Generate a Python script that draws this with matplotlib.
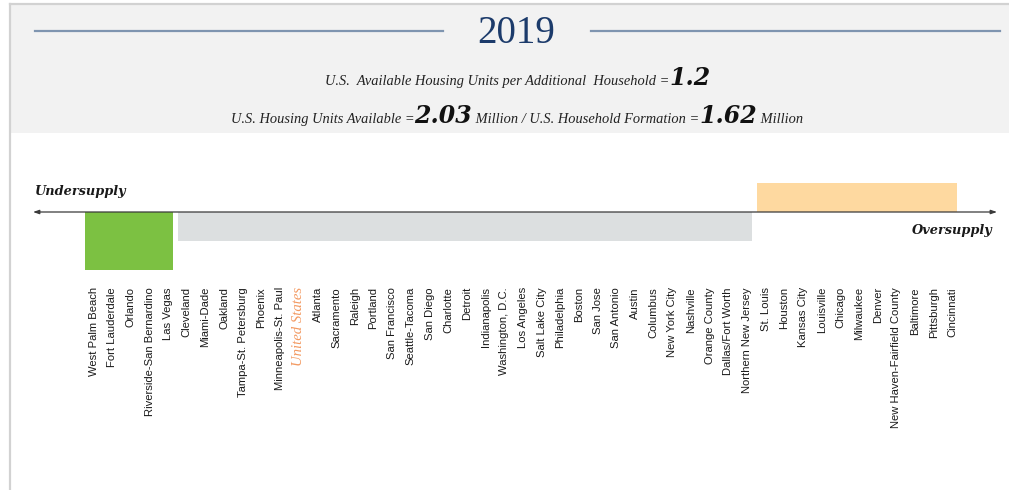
import matplotlib
matplotlib.use("Agg")
import matplotlib.pyplot as plt
from matplotlib.patches import Rectangle
from matplotlib.lines import Line2D

# ---- data -------------------------------------------------------------
year = "2019"
units_per_household = 1.2
units_available_mm = 2.03
household_formation_mm = 1.62

undersupply_markets = ["West Palm Beach", "Fort Lauderdale", "Orlando",
                       "Riverside-San Bernardino", "Las Vegas"]
balanced_markets = ["Cleveland", "Miami-Dade", "Oakland", "Tampa-St. Petersburg",
                    "Phoenix", "Minneapolis-St. Paul", "United States", "Atlanta",
                    "Sacramento", "Raleigh", "Portland", "San Francisco",
                    "Seattle-Tacoma", "San Diego", "Charlotte", "Detroit",
                    "Indianapolis", "Washington, D.C.", "Los Angeles",
                    "Salt Lake City", "Philadelphia", "Boston", "San Jose",
                    "San Antonio", "Austin", "Columbus", "New York City",
                    "Nashville", "Orange County", "Dallas/Fort Worth",
                    "Northern New Jersey"]
oversupply_markets = ["St. Louis", "Houston", "Kansas City", "Louisville",
                      "Chicago", "Milwaukee", "Denver", "New Haven-Fairfield County",
                      "Baltimore", "Pittsburgh", "Cincinnati"]

group_levels = [-2.0, -1.0, 1.0]
group_colors = ["#7cc142", "#dcdfe0", "#fed9a0"]
national_label = "United States"

# ---- figure -----------------------------------------------------------
W, H = 1009, 490
fig = plt.figure(figsize=(W / 100, H / 100), dpi=100)
fig.patch.set_facecolor("white")


def fx(px):
    return px / W


def fy(py):
    return 1 - py / H


# header panel and frame
fig.patches.append(Rectangle((fx(11), fy(133)), fx(W - 11), (133 - 5) / H,
                             transform=fig.transFigure, facecolor="#f2f2f2",
                             edgecolor="none", zorder=0))
fig.lines.append(Line2D([fx(10), fx(10)], [fy(4), fy(H)], transform=fig.transFigure,
                        color="#d2d2d2", lw=1.6, zorder=1))
fig.lines.append(Line2D([fx(10), fx(W)], [fy(4), fy(4)], transform=fig.transFigure,
                        color="#d2d2d2", lw=1.6, zorder=1))

# title with rules either side
fig.text(fx(516), fy(43), year, ha="center", va="baseline",
         family="Liberation Serif", fontsize=28, color="#1c3b6b")
for x0, x1 in [(35, 443), (591, 1000)]:
    fig.lines.append(Line2D([fx(x0), fx(x1)], [fy(31), fy(31)],
                            transform=fig.transFigure, color="#7f95b0",
                            lw=1.6, zorder=2))

renderer = fig.canvas.get_renderer()
small = dict(family="Liberation Serif", style="italic", fontsize=10.4, color="#222222")
big = dict(family="DejaVu Serif", style="italic", weight="bold", fontsize=17,
           color="#111111")


def centered_run(pieces, cx, baseline):
    texts = [fig.text(0, fy(baseline), s, ha="left", va="baseline", **p)
             for s, p in pieces]
    widths = [t.get_window_extent(renderer).width for t in texts]
    x = cx - sum(widths) / 2
    for t, w in zip(texts, widths):
        t.set_x(fx(x))
        x += w


centered_run([("U.S.  Available Housing Units per Additional  Household =", small),
              (f"{units_per_household:.1f}", big)], 518, 85)
centered_run([("U.S. Housing Units Available =", small),
              (f"{units_available_mm:.2f}", big),
              (" Million / U.S. Household Formation =", small),
              (f"{household_formation_mm:.2f}", big),
              (" Million", small)], 517, 123)

# ---- supply axis ------------------------------------------------------
x0_px, step_px = 93.5, 18.67      # pixel centre of first market, spacing
base_px, unit_px = 212.0, 29.0    # pixel row of the axis line, height of one level

ax = fig.add_axes([0, 0, 1, 1])
ax.set_xlim(-x0_px / step_px, (W - x0_px) / step_px)
ax.set_ylim(-(H - base_px) / unit_px, base_px / unit_px)
ax.axis("off")
ax.patch.set_visible(False)

markets = undersupply_markets + balanced_markets + oversupply_markets
groups = [undersupply_markets, balanced_markets, oversupply_markets]

start = 0
for names, level, color in zip(groups, group_levels, group_colors):
    first, last = start, start + len(names) - 1
    left, right = first - 0.47, last + 0.27
    ax.bar(left, level, width=right - left, align="edge", color=color,
           linewidth=0, zorder=2)
    start += len(names)

ax.annotate("", xy=((33 - x0_px) / step_px, 0), xytext=((997 - x0_px) / step_px, 0),
            arrowprops=dict(arrowstyle="<|-|>,head_length=0.35,head_width=0.12",
                            color="#3a3a3a", lw=0.9, shrinkA=0, shrinkB=0),
            zorder=3)

label_top = -(287 - base_px) / unit_px
for i, name in enumerate(markets):
    if name == national_label:
        ax.text(i, label_top, name, rotation=90, ha="center", va="top",
                family="Liberation Serif", style="italic", fontsize=10.6,
                color="#f39a62")
    else:
        ax.text(i, label_top, name, rotation=90, ha="center", va="top",
                family="Liberation Sans", fontsize=8.1, color="#1a1a1a")

end_font = dict(family="DejaVu Serif", style="italic", weight="bold",
                fontsize=9.3, color="#1a1a1a")
fig.text(fx(35), fy(191), "Undersupply", ha="left", va="center", **end_font)
fig.text(fx(993), fy(230), "Oversupply", ha="right", va="center", **end_font)

fig.savefig("out.png", dpi=100)
